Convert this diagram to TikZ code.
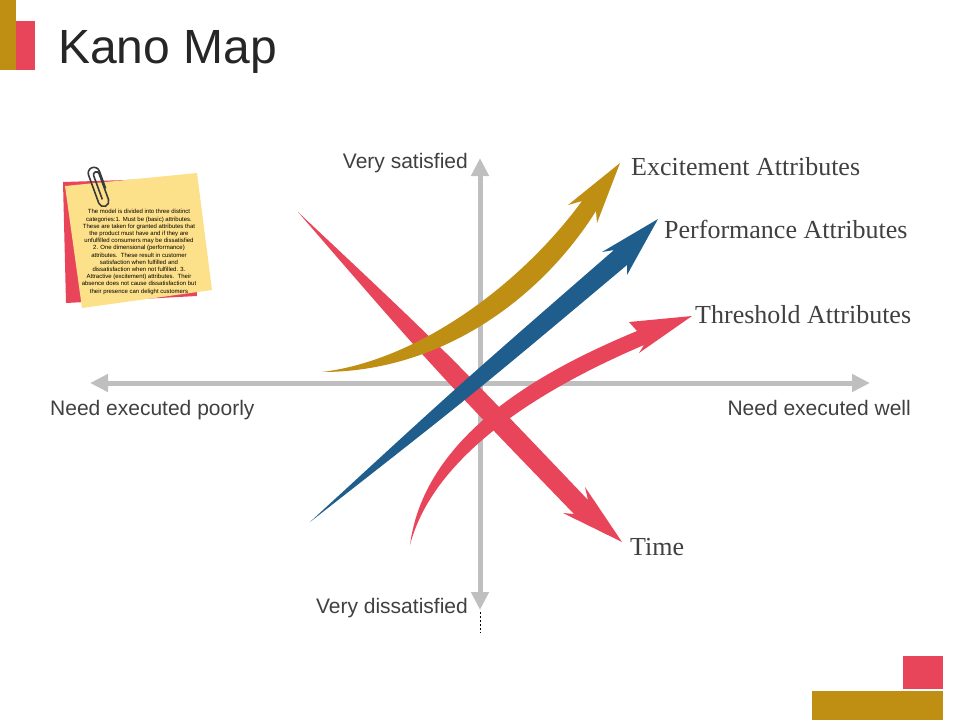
\documentclass[tikz,border=0pt]{standalone}
\usepackage{fontspec}
\setmainfont{Liberation Serif}
\setsansfont{Liberation Sans}
\usetikzlibrary{arrows.meta}
\definecolor{kgold}{RGB}{191,143,20}
\definecolor{kred}{RGB}{232,69,90}
\definecolor{kblue}{RGB}{31,94,140}
\definecolor{kaxis}{RGB}{191,191,191}
\definecolor{knote}{RGB}{253,224,138}
\definecolor{ktext}{RGB}{64,64,64}
\definecolor{kclip}{RGB}{58,58,58}

\begin{document}
\begin{tikzpicture}[
    % GLOBAL CFG: one unit is one pixel, y runs down
    x=1pt, y=-1pt,
    % Styles
    axis/.style={% For the grey axes
        draw=kaxis,
        line width=5pt,
        {Triangle[width=17pt,length=18pt]}-{Triangle[width=17pt,length=18pt]},
        },
    axislabel/.style={% For the labels at the axis ends
        font=\sffamily\fontsize{21}{25}\selectfont,
        text=ktext,
        inner sep=0pt,
        },
    attr/.style={% For the labels at the arrow heads
        font=\fontsize{26}{30}\selectfont,
        text=ktext,
        inner sep=0pt,
        anchor=base west,
        },
    notetext/.style={% For the text on the sticky note
        font=\sffamily\fontsize{6}{7.2}\selectfont,
        align=center,
        inner sep=0pt,
        },
    paperclip/.style={% For the clip on the note
        draw=kclip,
        line width=1.6pt,
        },
    ]
\useasboundingbox (0,0) rectangle (960,720);

% Corner decorations
\fill[kgold] (0,0) rectangle (16,70);
\fill[kred] (16,21) rectangle (35,70);
\fill[kred] (903,656) rectangle (943,689);
\fill[kgold] (812,691) rectangle (943,720);

% Title
\node[anchor=base west, inner sep=0pt, text=black!85,
      font=\sffamily\fontsize{48}{56}\selectfont] (title) at (58,63) {Kano Map};

% Sticky note
\fill[kred] (63,182) -- (190,178) -- (197,296) -- (66,303) -- cycle;
\fill[knote] (65,186) -- (197,173) -- (212,290) -- (82,308) -- cycle;
\node[notetext] (note) at (139,252) {The model is divided into three distinct\\
categories:1. Must be (basic) attributes.\\
These are taken for granted attributes that\\
the product must have and if they are\\
unfulfilled consumers may be dissatisfied\\
2. One dimensional (performance)\\
attributes.\ \ These result in customer\\
satisfaction when fulfilled and\\
dissatisfaction when not fulfilled. 3.\\
Attractive (excitement) attributes.\ \ Their\\
absence does not cause dissatisfaction but\\
their presence can delight customers};
\draw[paperclip, shift={(100,188)}, rotate=20, scale=1.15]
    (-1.5,10) -- (-1.5,-12) arc (180:360:2.5) -- (3.5,12) arc (0:180:4.5)
    -- (-5.5,-14) arc (180:360:5) -- (4.5,2);

% Axes
\coordinate (left) at (90,383);
\coordinate (right) at (870,383);
\coordinate (top) at (480,158);
\coordinate (bottom) at (480,610);
\coordinate (stub) at (480,633);
\draw[axis] (left) -- (right);
\draw[axis] (top) -- (bottom);
\draw[dash pattern=on 2pt off 2pt, line width=0.6pt] (bottom) ++(0,2) -- (stub);

\node[axislabel, anchor=base east] (vsat) at (468,168) {Very satisfied};
\node[axislabel, anchor=base east] (vdis) at (468,613) {Very dissatisfied};
\node[axislabel, anchor=base west] (npoor) at (50,415) {Need executed poorly};
\node[axislabel, anchor=base east] (nwell) at (911,415) {Need executed well};

% Time
\fill[kred] (298,212) .. controls (447,352) .. (588,500) -- (585,487)
    -- (622,542) -- (563,513) -- (574,514) .. controls (432,367) .. cycle;
% Threshold
\fill[kred] (410,545) .. controls (425,430) and (553,366) .. (637,331)
    -- (629,322) -- (692,316) -- (639,353) -- (644,345)
    .. controls (562,380) and (436,446) .. cycle;
% Performance
\fill[kblue] (310,522) .. controls (460,384) .. (614,250) -- (602,252)
    -- (658,219) -- (627,275) -- (627,265) .. controls (471,396) .. cycle;
% Excitement
\fill[kgold] (322,372) .. controls (420,360) and (522,283) .. (582,201)
    -- (568,205) -- (620,163) -- (597,223) -- (596,211)
    .. controls (540,300) and (440,372) .. cycle;

\node[attr] (exc) at (631,175) {Excitement Attributes};
\node[attr] (perf) at (664,238) {Performance Attributes};
\node[attr] (thr) at (695,323) {Threshold Attributes};
\node[attr] (time) at (630,555) {Time};
\end{tikzpicture}
\end{document}
